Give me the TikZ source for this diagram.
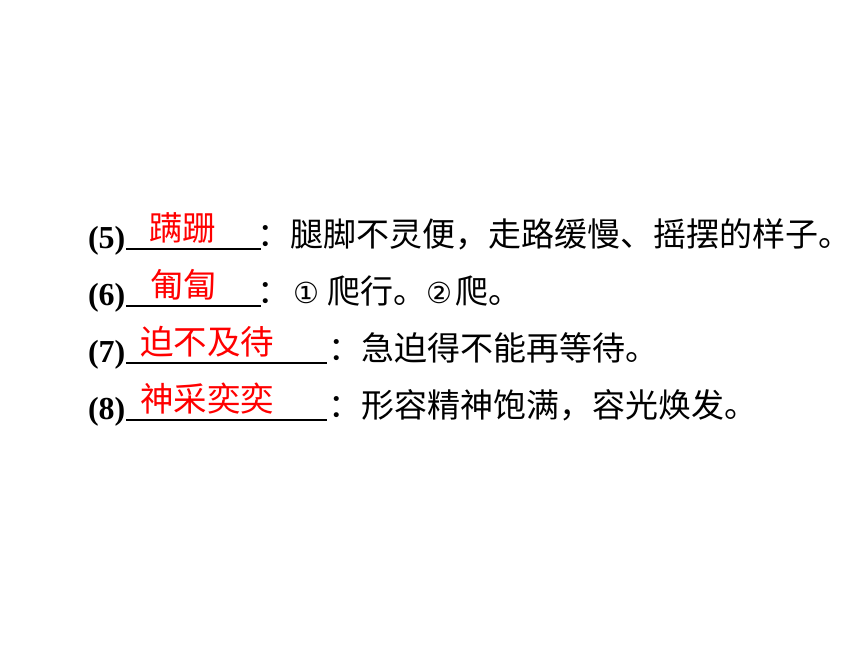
\documentclass[tikz,border=0pt]{standalone}
\usepackage{fontspec}
\setmainfont{Liberation Serif}
\newfontfamily\cjk{Noto Sans CJK SC}
\newfontfamily\symfont{DejaVu Sans}
\newcommand{\circnum}[3]{\makebox[#1][l]{\symfont\fontsize{29}{29}\selectfont\hspace{#2}#3}}
\begin{document}
\begin{tikzpicture}[x=1pt,y=-1pt,
  num/.style={anchor=base west, inner sep=0pt, outer sep=0pt, font=\fontsize{32}{32}\selectfont\bfseries},
  ans/.style={anchor=base west, inner sep=0pt, outer sep=0pt, text=red, font=\cjk\fontsize{33.5}{33.5}\selectfont},
  defn/.style={anchor=base west, inner sep=0pt, outer sep=0pt, font=\cjk\fontsize{33}{33}\selectfont},
  blank/.style={line width=2pt}]
\fill[white] (0,0) rectangle (860,645);
\useasboundingbox (0,0) rectangle (860,645);
% row 5
\node[num] (n5) at (88,248) {(5)};
\coordinate (e5) at (261,248.5);
\draw[blank] (126,248.5) coordinate (s5) -- (e5);
\node[ans] (a5) at (149,240) {蹒跚};
\node[defn] (d5) at (257.5,246) {：腿脚不灵便，走路缓慢、摇摆的样子。};
% row 6
\node[num] (n6) at (88,305) {(6)};
\coordinate (e6) at (261,305.5);
\draw[blank] (126,305.5) coordinate (s6) -- (e6);
\node[ans] (a6) at (150,297) {匍匐};
\node[defn] (d6) at (257.5,303) {：\circnum{37pt}{3pt}{①}爬行。\circnum{29pt}{0pt}{②}爬。};
% row 7
\node[num] (n7) at (88,362) {(7)};
\coordinate (e7) at (327,362.5);
\draw[blank] (126,362.5) coordinate (s7) -- (e7);
\node[ans] (a7) at (140,354) {迫不及待};
\node[defn] (d7) at (328.5,360) {：急迫得不能再等待。};
% row 8
\node[num] (n8) at (88,419) {(8)};
\coordinate (e8) at (327,419.5);
\draw[blank] (126,419.5) coordinate (s8) -- (e8);
\node[ans] (a8) at (140,411) {神采奕奕};
\node[defn] (d8) at (328.5,417) {：形容精神饱满，容光焕发。};
\end{tikzpicture}
\end{document}
